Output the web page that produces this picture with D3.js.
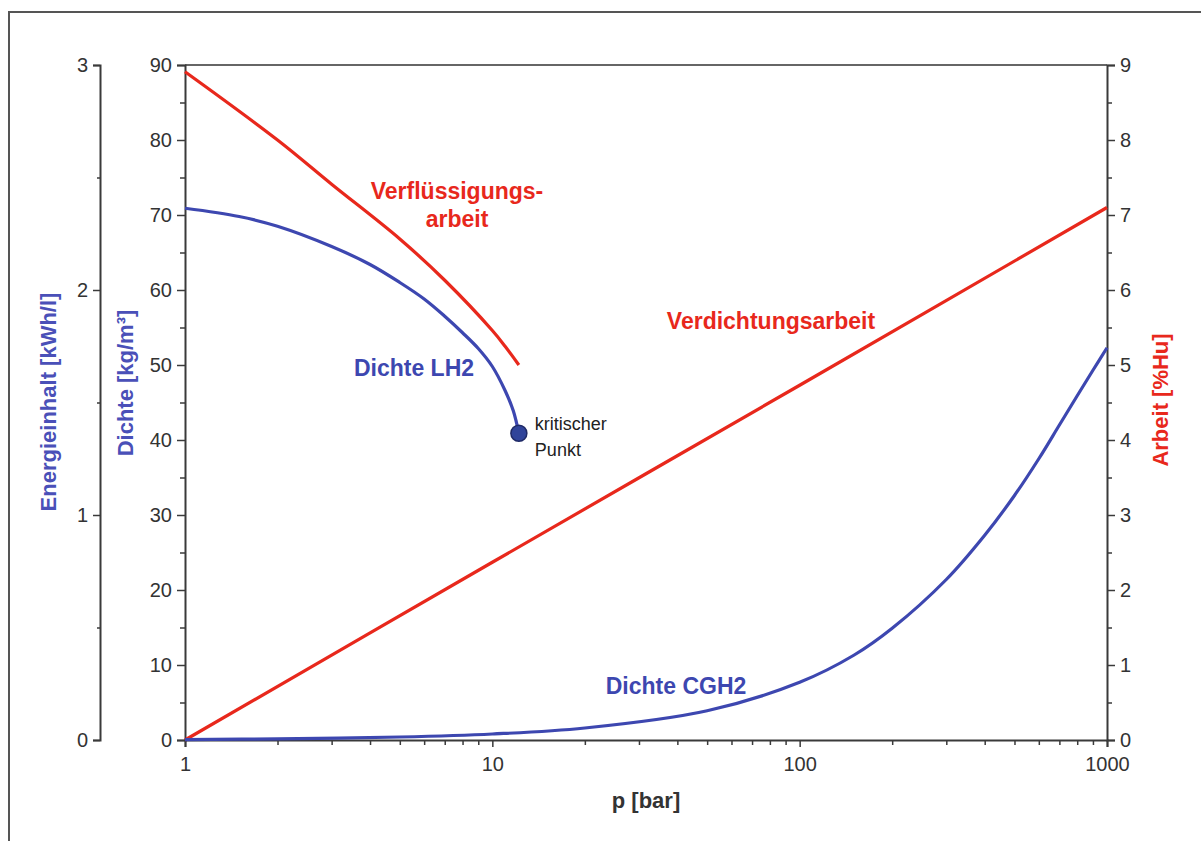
<!DOCTYPE html>
<html><head><meta charset="utf-8">
<script src="https://cdn.jsdelivr.net/npm/d3@7"></script>
<style>
body{margin:0;background:#fff;}
svg{display:block;font-family:"Liberation Sans",Arial,sans-serif;}
</style></head>
<body>
<svg id="c" width="1201" height="841"></svg>
<script>
// ---- data ----
const pLH2 = [1, 1.5, 2, 3, 4, 5, 6, 7, 8, 9, 10, 11, 11.7, 12.2];
const dichteLH2 = [70.9, 69.8, 68.5, 65.8, 63.4, 61.0, 58.8, 56.5, 54.3, 52.2, 49.8, 46.6, 43.9, 40.9];
const pVerfl = [1, 2, 3, 5, 7, 10, 11, 12.2];
const verfluessigungsarbeit = [8.91, 8.0, 7.41, 6.68, 6.13, 5.46, 5.25, 5.0];
const pVerd = [1, 10, 100, 1000];
const verdichtungsarbeit = [0, 2.37, 4.73, 7.1];
const pCGH2 = [1, 2, 5, 10, 20, 50, 100, 150, 200, 300, 400, 500, 600, 700, 800, 900, 1000];
const dichteCGH2 = [0.05, 0.15, 0.4, 0.8, 1.6, 3.9, 7.7, 11.3, 14.9, 21.4, 27.3, 32.6, 37.5, 42.0, 45.9, 49.3, 52.3];
const kritischerPunkt = {p: 12.2, dichte: 40.9};
const xTicks = [1, 10, 100, 1000];
const dichteTicks = [0, 10, 20, 30, 40, 50, 60, 70, 80, 90];
const energieTicks = [0, 1, 2, 3];
const arbeitTicks = [0, 1, 2, 3, 4, 5, 6, 7, 8, 9];

const svg = d3.select("#c");
const blue = "#3d47b0", red = "#e8281c", axisC = "#3a3a3a", textC = "#333";
const L = 185, R = 1107, T = 65, B = 740;

const x = d3.scaleLog().domain([1, 1000]).range([L, R]);
const yD = d3.scaleLinear().domain([0, 90]).range([B, T]);
const yE = d3.scaleLinear().domain([0, 3]).range([B, T]);
const yA = d3.scaleLinear().domain([0, 9]).range([B, T]);

// outer frame
svg.append("path").attr("d", "M9,841 V12 H1201").attr("fill", "none").attr("stroke", "#555").attr("stroke-width", 2);

// top border of plot
svg.append("line").attr("x1", L).attr("x2", R).attr("y1", T).attr("y2", T).attr("stroke", "#666").attr("stroke-width", 2);

function styleAxis(g){
  g.selectAll(".domain").attr("stroke", axisC).attr("stroke-width", 2);
  g.selectAll(".tick line").attr("stroke", axisC).attr("stroke-width", 1.5);
  g.selectAll(".tick text").attr("fill", textC).attr("font-size", 20);
}

// minor ticks
const minorX = [];
[1, 10, 100].forEach(d => { for (let k = 2; k <= 9; k++) minorX.push(d * k); });
const minorD = d3.range(5, 90, 10);
const minorE = [0.5, 1.5, 2.5];
const minorA = d3.range(0.5, 9, 1);

// x axis
const gx = svg.append("g").attr("transform", `translate(0,${B})`)
  .call(d3.axisBottom(x).tickValues(xTicks).tickFormat(d3.format("d")).tickSize(7).tickPadding(10));
styleAxis(gx);
const gxm = svg.append("g").attr("transform", `translate(0,${B})`)
  .call(d3.axisBottom(x).tickValues(minorX).tickFormat("").tickSize(5));
styleAxis(gxm); gxm.select(".domain").remove();

// left Dichte axis
const gd = svg.append("g").attr("transform", `translate(${L},0)`)
  .call(d3.axisLeft(yD).tickValues(dichteTicks).tickSize(8).tickPadding(5));
styleAxis(gd);
const gdm = svg.append("g").attr("transform", `translate(${L},0)`)
  .call(d3.axisLeft(yD).tickValues(minorD).tickFormat("").tickSize(5));
styleAxis(gdm); gdm.select(".domain").remove();

// Energie axis
const ge = svg.append("g").attr("transform", `translate(100,0)`)
  .call(d3.axisLeft(yE).tickValues(energieTicks).tickFormat(d3.format("d")).tickSize(7).tickPadding(5));
styleAxis(ge);
const gem = svg.append("g").attr("transform", `translate(100,0)`)
  .call(d3.axisLeft(yE).tickValues(minorE).tickFormat("").tickSize(3));
styleAxis(gem); gem.select(".domain").remove();

// right Arbeit axis
const ga = svg.append("g").attr("transform", `translate(${R},0)`)
  .call(d3.axisRight(yA).tickValues(arbeitTicks).tickSize(8).tickPadding(5));
styleAxis(ga);
const gam = svg.append("g").attr("transform", `translate(${R},0)`)
  .call(d3.axisRight(yA).tickValues(minorA).tickFormat("").tickSize(5));
styleAxis(gam); gam.select(".domain").remove();

// curves
const line = (xs, ys, ysc) => d3.line().x((d, i) => x(xs[i])).y((d) => ysc(d)).curve(d3.curveCatmullRom.alpha(0.5))(ys);
svg.append("path").attr("d", line(pVerd, verdichtungsarbeit, yA)).attr("fill", "none").attr("stroke", red).attr("stroke-width", 3.2);
svg.append("path").attr("d", line(pCGH2, dichteCGH2, yD)).attr("fill", "none").attr("stroke", blue).attr("stroke-width", 3.2);
svg.append("path").attr("d", line(pVerfl, verfluessigungsarbeit, yA)).attr("fill", "none").attr("stroke", red).attr("stroke-width", 3.2);
svg.append("path").attr("d", line(pLH2, dichteLH2, yD)).attr("fill", "none").attr("stroke", blue).attr("stroke-width", 3.2);

// critical point
svg.append("circle").attr("cx", x(kritischerPunkt.p)).attr("cy", yD(kritischerPunkt.dichte)).attr("r", 8)
  .attr("fill", "#30449a").attr("stroke", "#1f2a66").attr("stroke-width", 1.5);
svg.append("text").attr("x", x(kritischerPunkt.p) + 16).attr("y", yD(kritischerPunkt.dichte) - 3)
  .attr("font-size", 18).attr("fill", "#222").text("kritischer");
svg.append("text").attr("x", x(kritischerPunkt.p) + 16).attr("y", yD(kritischerPunkt.dichte) + 23)
  .attr("font-size", 18).attr("fill", "#222").text("Punkt");

// curve labels
function lab(t, xx, yy, col){
  svg.append("text").attr("x", xx).attr("y", yy).attr("text-anchor", "middle")
    .attr("font-size", 23).attr("font-weight", "bold").attr("fill", col).text(t);
}
lab("Verflüssigungs-", 457, 199, red);
lab("arbeit", 457, 227, red);
lab("Verdichtungsarbeit", 771, 329, red);
lab("Dichte LH2", 414, 376, blue);
lab("Dichte CGH2", 676, 694, blue);

// axis titles
svg.append("text").attr("x", 646).attr("y", 808).attr("text-anchor", "middle")
  .attr("font-size", 22).attr("font-weight", "bold").attr("fill", "#333").text("p [bar]");
function vlab(t, xx, yy, col){
  svg.append("text").attr("transform", `translate(${xx},${yy}) rotate(-90)`).attr("text-anchor", "middle")
    .attr("font-size", 22).attr("font-weight", "bold").attr("fill", col).text(t);
}
vlab("Energieinhalt [kWh/l]", 56, 402, "#4a50b8");
vlab("Dichte [kg/m³]", 133, 383, "#4a50b8");
vlab("Arbeit [%Hu]", 1168, 400, red);
</script>
</body></html>
